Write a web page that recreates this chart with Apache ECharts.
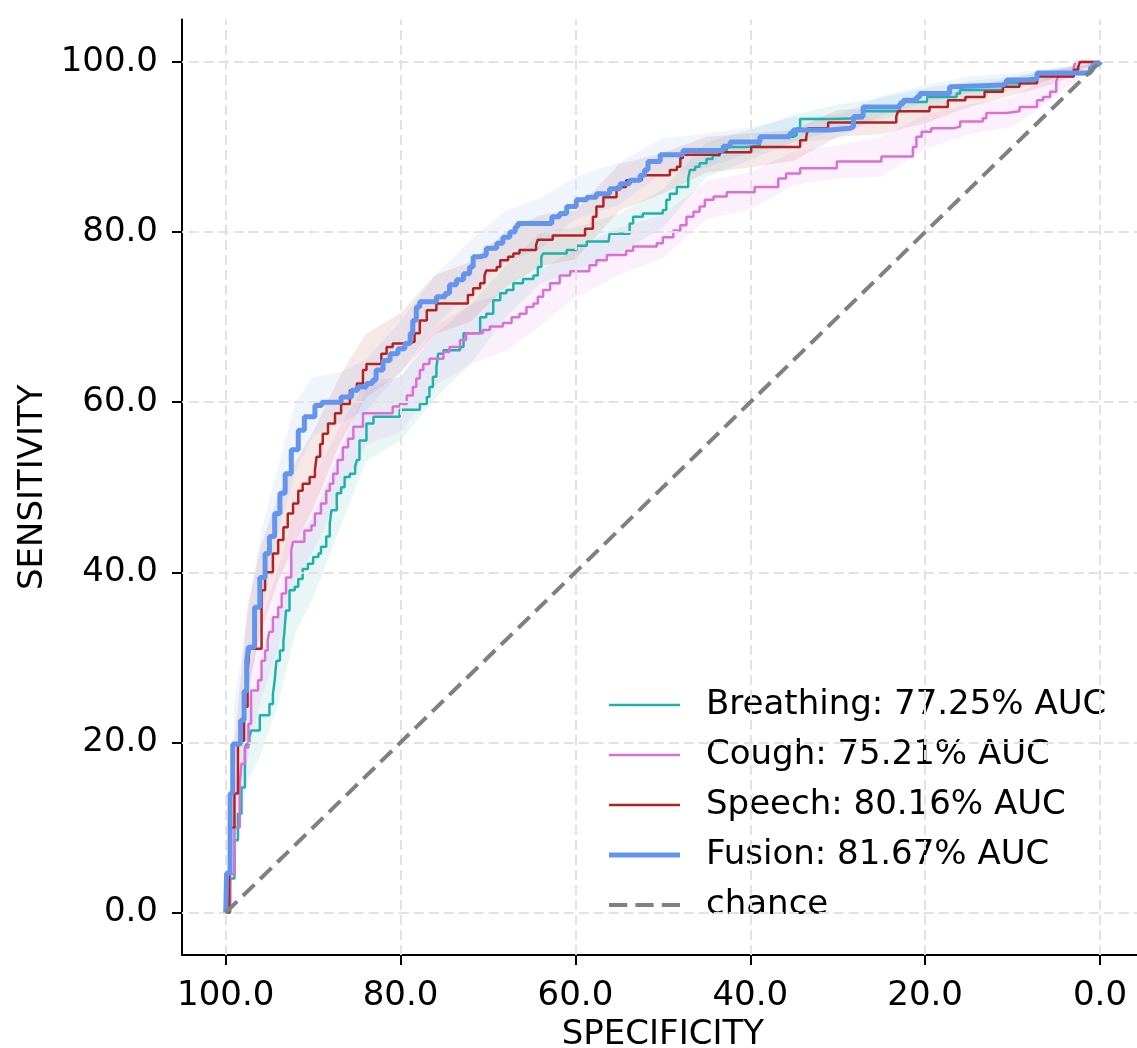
<!DOCTYPE html>
<html>
<head>
<meta charset="utf-8">
<script src="https://cdn.jsdelivr.net/npm/echarts@6/dist/echarts.min.js"></script>
<style>html,body{margin:0;padding:0;background:#fff;overflow:hidden}#c{width:1137px;height:1048px}</style>
</head>
<body>
<div id="c"></div>
<script>
// ---------- data ----------
const tickValues = [0, 20, 40, 60, 80, 100];
const tickLabels = ['0.0', '20.0', '40.0', '60.0', '80.0', '100.0'];
const seriesNames = ['Breathing: 77.25% AUC', 'Cough: 75.21% AUC', 'Speech: 80.16% AUC', 'Fusion: 81.67% AUC', 'chance'];

const breathingSpec = [100, 99.5, 99.0, 98.6, 98.2, 97.8, 97.6, 97.3, 97.1, 96.1, 95.0, 94.6, 94.4, 94.2, 93.8, 93.4, 93.3, 93.1, 92.7, 92.1, 91.7, 91.2, 90.6, 90.0, 89.4, 89.1, 88.5, 88.1, 87.9, 87.3, 86.8, 86.4, 85.8, 85.2, 85.0, 84.7, 83.9, 83.1, 80.1, 77.8, 77.0, 76.7, 76.3, 75.9, 75.7, 75.1, 73.2, 72.8, 70.9, 70.2, 69.4, 68.6, 67.9, 67.1, 66.0, 64.8, 64.3, 63.9, 63.7, 61.0, 59.9, 58.7, 56.2, 56.1, 53.8, 53.4, 52.3, 50.0, 49.6, 49.2, 48.4, 47.1, 46.9, 46.3, 45.8, 45.0, 44.3, 43.5, 42.7, 40.4, 38.9, 35.1, 34.7, 34.3, 30.9, 27.1, 22.9, 19.8, 16.4, 16.0, 11.1, 8.0, 7.2, 1.5, 0.8, 0];
const breathingSens = [0, 4.0, 8.5, 11.6, 14.7, 19.4, 19.8, 20.6, 21.4, 23.2, 24.5, 25.7, 27.3, 29.6, 30.8, 32.0, 32.8, 35.5, 37.9, 38.3, 39.2, 40.4, 41.0, 41.8, 42.2, 43.0, 44.2, 45.7, 47.3, 49.3, 50.0, 51.2, 51.6, 52.4, 53.2, 55.5, 57.5, 58.3, 59.1, 59.8, 60.6, 61.8, 63.0, 64.1, 65.7, 66.1, 66.5, 68.1, 70.0, 70.4, 72.0, 72.8, 73.2, 74.0, 74.5, 74.9, 75.9, 77.1, 77.5, 77.9, 78.4, 78.9, 79.1, 79.8, 81.0, 81.8, 82.2, 82.6, 83.8, 84.5, 85.3, 86.3, 87.3, 87.7, 88.1, 88.6, 89.0, 89.6, 90.0, 90.2, 91.2, 91.4, 92.2, 93.3, 93.4, 94.2, 95.3, 95.9, 96.3, 96.7, 97.5, 98.1, 98.6, 98.9, 99.6, 100];

const coughSpec = [100, 99.5, 99.0, 98.4, 98.2, 97.8, 97.4, 97.1, 96.3, 95.9, 95.5, 95.2, 95.0, 94.6, 94.0, 93.6, 93.1, 92.5, 92.3, 91.0, 90.2, 89.8, 89.1, 88.5, 88.1, 87.7, 87.2, 86.6, 86.0, 85.4, 84.3, 80.9, 80.1, 79.3, 78.6, 78.2, 77.8, 77.4, 76.7, 75.1, 74.4, 73.2, 72.5, 70.6, 69.8, 68.3, 67.3, 66.4, 65.6, 64.8, 64.3, 63.7, 62.9, 61.8, 60.6, 58.4, 57.6, 56.4, 54.2, 53.4, 50.7, 50.0, 48.8, 48.0, 47.3, 46.5, 45.8, 45.2, 44.2, 42.7, 39.5, 36.8, 35.9, 34.3, 30.1, 25.0, 21.4, 21.0, 20.4, 19.3, 16.8, 16.0, 13.4, 13.0, 10.7, 9.2, 7.2, 6.5, 5.7, 5.0, 4.8, 3.0, 2.8, 0];
const coughSens = [0, 4.5, 10.0, 15.1, 17.5, 19.4, 22.2, 26.1, 27.3, 29.6, 30.8, 32.0, 33.0, 34.7, 35.9, 37.5, 39.4, 42.6, 43.6, 44.9, 45.5, 46.9, 48.1, 49.6, 50.4, 51.6, 53.2, 54.7, 55.7, 57.1, 58.7, 59.5, 59.8, 60.8, 61.8, 62.8, 63.8, 64.5, 65.1, 65.9, 66.5, 67.3, 68.1, 68.5, 68.9, 69.3, 70.0, 70.4, 71.2, 71.6, 72.4, 73.2, 74.0, 74.9, 75.4, 76.1, 76.7, 77.3, 77.8, 78.3, 78.7, 79.4, 80.2, 80.8, 81.8, 82.4, 83.0, 83.8, 84.2, 84.7, 85.3, 86.3, 86.9, 87.5, 88.3, 88.9, 90.0, 91.2, 91.8, 92.2, 92.4, 93.0, 93.4, 94.0, 94.2, 94.7, 95.5, 95.9, 96.5, 97.7, 98.3, 99.4, 100, 100];

const speechSpec = [100, 99.6, 99.0, 98.6, 98.6, 98.3, 97.9, 97.5, 97.3, 95.9, 95.5, 94.6, 94.0, 93.4, 92.9, 92.3, 91.7, 91.2, 90.4, 89.8, 89.6, 89.2, 88.9, 88.3, 87.5, 86.8, 85.8, 85.0, 84.3, 83.9, 82.2, 81.6, 80.9, 79.3, 78.4, 77.8, 77.0, 75.9, 72.3, 71.7, 70.9, 70.4, 70.2, 69.0, 68.6, 67.7, 67.1, 66.4, 64.5, 64.3, 62.6, 58.9, 58.0, 57.6, 56.8, 55.3, 54.2, 52.4, 49.2, 48.4, 48.0, 47.7, 43.5, 39.9, 34.3, 33.6, 33.4, 31.1, 23.3, 23.1, 19.5, 17.4, 15.4, 13.2, 11.1, 9.2, 7.2, 3.0, 2.5, 2.3, 0];
const speechSens = [0, 10.0, 14.0, 15.5, 19.8, 20.2, 24.2, 28.1, 31.0, 37.9, 40.0, 42.2, 43.8, 45.3, 46.9, 48.1, 49.6, 50.4, 51.2, 52.0, 53.6, 55.1, 56.3, 57.5, 58.7, 59.8, 61.4, 62.2, 63.8, 64.5, 65.7, 66.5, 66.9, 67.1, 68.1, 69.6, 70.8, 71.6, 72.6, 73.4, 74.0, 74.9, 75.5, 75.9, 76.7, 77.1, 77.5, 77.9, 78.5, 79.1, 79.6, 80.4, 81.8, 83.0, 84.1, 85.3, 86.1, 86.7, 87.3, 87.7, 88.7, 89.1, 89.4, 90.0, 90.8, 91.2, 92.2, 92.9, 93.6, 94.2, 94.7, 95.5, 95.9, 96.5, 97.1, 97.5, 98.3, 99.1, 99.4, 100, 100];

const fusionSpec = [100, 99.9, 99.5, 99.2, 98.3, 97.9, 97.6, 97.4, 96.7, 96.1, 95.5, 95.0, 94.4, 93.8, 93.2, 92.5, 91.7, 91.0, 89.8, 89.0, 86.8, 85.6, 84.9, 83.9, 83.2, 82.8, 82.0, 81.2, 80.3, 79.5, 78.9, 78.6, 78.2, 77.8, 76.7, 75.9, 74.9, 74.4, 73.6, 72.8, 72.1, 71.7, 70.9, 70.2, 69.0, 68.3, 67.5, 66.9, 66.6, 63.3, 62.7, 61.8, 61.0, 59.9, 58.7, 57.6, 56.1, 54.9, 53.8, 52.6, 52.1, 51.7, 50.3, 47.7, 43.5, 43.1, 42.3, 38.9, 35.5, 35.1, 30.9, 28.6, 28.2, 27.1, 22.9, 22.5, 21.0, 20.6, 17.2, 16.8, 11.1, 10.7, 7.6, 7.2, 1.5, 1.1, 0.7, 0];
const fusionSens = [0, 4.6, 14.0, 19.8, 22.6, 26.0, 29.6, 31.2, 35.9, 39.4, 42.2, 44.2, 46.9, 49.3, 51.6, 54.4, 56.7, 58.3, 59.6, 60.0, 60.6, 61.4, 61.8, 62.2, 62.6, 63.8, 64.9, 65.7, 66.3, 66.9, 68.1, 69.6, 71.2, 71.8, 71.8, 72.4, 72.8, 73.8, 74.4, 75.1, 75.9, 77.1, 77.3, 78.1, 78.7, 79.4, 80.0, 80.6, 81.0, 81.0, 81.8, 82.2, 83.0, 83.8, 84.1, 84.5, 85.1, 85.7, 86.1, 86.7, 87.3, 88.3, 89.1, 89.6, 89.6, 90.1, 90.6, 91.2, 91.6, 92.0, 92.2, 92.4, 93.6, 94.7, 95.1, 95.5, 95.9, 96.3, 97.1, 97.3, 97.5, 97.9, 98.1, 98.7, 98.7, 99.4, 99.8, 100];

const chanceSpec = [100, 0];
const chanceSens = [0, 100];

// confidence bands (read at a coarse specificity grid)
const bandSpec = [100, 99, 97.5, 96, 94, 92, 90, 87, 84, 80, 76, 72, 68, 64, 60, 55, 50, 45, 40, 35, 30, 25, 20, 15, 10, 5, 0];
const breathingLo = [0, 5, 15.5, 18.5, 24.5, 33, 37, 45, 53, 55.5, 60.5, 64.5, 70, 74, 75.5, 77.5, 80.5, 86.5, 88.5, 90.6, 92, 93.2, 94.5, 95.7, 96.7, 98.1, 100];
const breathingHi = [0, 13, 25, 28, 35, 43.5, 46.5, 54, 61.5, 63, 68, 71.5, 76, 80, 80.5, 82.2, 85, 90.6, 92, 93.8, 95, 95.8, 96.9, 97.7, 98.3, 99.3, 100];
const coughLo = [0, 8, 18, 25, 31, 39, 42.5, 49, 55, 56.5, 62, 64.5, 66, 69, 72.3, 75, 77, 81.5, 82.7, 85.5, 86.3, 86.5, 89.8, 91.5, 92.4, 96, 100];
const coughHi = [0, 15, 27, 34, 40.5, 48, 51, 57, 62.5, 63, 69, 71.5, 73, 75.5, 78, 80.5, 82, 86, 87, 89.5, 90.2, 91.2, 93.8, 95, 95.8, 99, 100];
const speechLo = [0, 12, 26, 33, 39, 43.5, 47.5, 55, 60.5, 63.5, 68, 69.5, 73.5, 76, 76.8, 82.5, 84.5, 87, 87.6, 88.4, 91.2, 91.5, 92.8, 94.7, 96.1, 97.5, 100];
const speechHi = [0, 20, 36, 43, 49, 53, 56.5, 63, 68, 70.5, 75, 76.5, 80, 82, 82.5, 88, 89.3, 91.2, 91.6, 92, 94.4, 94.5, 95.6, 97.1, 98.1, 99.1, 100];
const fusionLo = [0, 17, 25, 34.5, 44.5, 52, 56, 57.5, 59, 63.5, 69, 73, 76.5, 78, 81.5, 83.2, 87, 87.6, 89.3, 90.5, 91, 93.7, 95.3, 96.3, 97.1, 98.1, 100];
const fusionHi = [0, 25, 35, 44.5, 52.5, 60, 63, 63.5, 65, 69.5, 75, 79, 82.5, 84, 86.5, 88.2, 91, 91.6, 92.3, 93.5, 93.8, 96, 97.3, 98.3, 98.7, 99.3, 100];

// ---------- styling ----------
const FONT = 'DejaVu Sans';
const colors = { breathing: '#20B2AA', cough: '#DA70D6', speech: '#B22222', fusion: '#6495ED', chance: '#808080' };
const thinIcon = 'path://M0,0H71V2.6H0Z';
const thickIcon = 'path://M0,0H71V5.2H0Z';
const dashIcon = 'path://M0,0H18V4H0Z M26,0H44V4H26Z M52,0H70V4H52Z';

function zip(a, b) {
  const n = Math.min(a.length, b.length), out = [];
  for (let i = 0; i < n; i++) out.push([a[i], b[i]]);
  return out;
}

function bandSeries(color, lo, hi) {
  return {
    type: 'custom', silent: true, z: 1, clip: true,
    data: [[50, 50]],
    encode: { x: 0, y: 1 },
    renderItem: function (params, api) {
      const pts = [];
      for (let i = 0; i < bandSpec.length; i++) pts.push(api.coord([bandSpec[i], hi[i]]));
      for (let i = bandSpec.length - 1; i >= 0; i--) pts.push(api.coord([bandSpec[i], lo[i]]));
      return { type: 'polygon', shape: { points: pts }, style: { fill: color, opacity: 0.1 } };
    }
  };
}

function curve(name, color, spec, sens, width, z) {
  return {
    name: name, type: 'line', step: 'end', showSymbol: false, symbol: 'none', z: z,
    data: zip(spec, sens), silent: true,
    lineStyle: { color: color, width: width },
    itemStyle: { color: color },
    emphasis: { disabled: true }
  };
}

const gridLineData = [];
tickValues.forEach(v => gridLineData.push({ xAxis: v }));
tickValues.forEach(v => gridLineData.push({ yAxis: v }));

const labelFmt = v => { const i = tickValues.indexOf(Math.round(v)); return i >= 0 ? tickLabels[i] : ''; };

const option = {
  animation: false,
  backgroundColor: '#ffffff',
  textStyle: { fontFamily: FONT },
  grid: { left: 182, right: -6.7, top: 19.5, bottom: 93, containLabel: false, outerBoundsMode: 'none' },
  xAxis: {
    type: 'value', inverse: true, min: -5, max: 105,
    name: 'SPECIFICITY', nameLocation: 'middle', nameGap: 63,
    nameTextStyle: { fontSize: 34, color: '#000', fontFamily: FONT },
    axisLine: { show: true, onZero: false, lineStyle: { color: '#000', width: 2 } },
    axisTick: { show: true, customValues: tickValues, length: 10, lineStyle: { color: '#000', width: 2 } },
    axisLabel: { customValues: tickValues, formatter: labelFmt, fontSize: 34, margin: 24, color: '#000', fontFamily: FONT },
    splitLine: { show: false }
  },
  yAxis: {
    type: 'value', min: -5, max: 105,
    name: 'SENSITIVITY', nameLocation: 'middle', nameGap: 131,
    nameTextStyle: { fontSize: 34, color: '#000', fontFamily: FONT },
    axisLine: { show: true, onZero: false, lineStyle: { color: '#000', width: 2 } },
    axisTick: { show: true, customValues: tickValues, length: 10, lineStyle: { color: '#000', width: 2 } },
    axisLabel: { customValues: tickValues, formatter: labelFmt, fontSize: 34, margin: 24, color: '#000', fontFamily: FONT },
    splitLine: { show: false }
  },
  legend: {
    data: [
      { name: seriesNames[0], icon: thinIcon },
      { name: seriesNames[1], icon: thinIcon },
      { name: seriesNames[2], icon: thinIcon },
      { name: seriesNames[3], icon: thickIcon },
      { name: seriesNames[4], icon: dashIcon }
    ],
    orient: 'vertical', left: 609, top: 688, padding: 0,
    itemWidth: 71, itemHeight: 14, itemGap: 16,
    symbolKeepAspect: true,
    selectedMode: false,
    textStyle: { fontSize: 34, color: '#000', fontFamily: FONT, padding: [0, 0, 0, 21], lineHeight: 34 }
  },
  series: [
    {
      type: 'line', name: 'grid', data: [], silent: true, z: 0,
      markLine: {
        silent: true, symbol: 'none', animation: false,
        label: { show: false },
        lineStyle: { color: '#e2e2e2', width: 2, type: [10, 5] },
        emphasis: { disabled: true },
        data: gridLineData
      }
    },
    bandSeries(colors.breathing, breathingLo, breathingHi),
    bandSeries(colors.cough, coughLo, coughHi),
    bandSeries(colors.speech, speechLo, speechHi),
    bandSeries(colors.fusion, fusionLo, fusionHi),
    curve(seriesNames[0], colors.breathing, breathingSpec, breathingSens, 2.5, 3),
    curve(seriesNames[1], colors.cough, coughSpec, coughSens, 2.5, 4),
    curve(seriesNames[2], colors.speech, speechSpec, speechSens, 2.5, 5),
    curve(seriesNames[3], colors.fusion, fusionSpec, fusionSens, 5, 6),
    {
      name: seriesNames[4], type: 'line', showSymbol: false, symbol: 'none', z: 7, silent: true,
      data: zip(chanceSpec, chanceSens),
      lineStyle: { color: colors.chance, width: 4, type: [16, 8] },
      itemStyle: { color: colors.chance },
      emphasis: { disabled: true }
    }
  ]
};

const chart = echarts.init(document.getElementById('c'), null, { renderer: 'canvas' });
chart.setOption(option);
</script>
</body>
</html>
